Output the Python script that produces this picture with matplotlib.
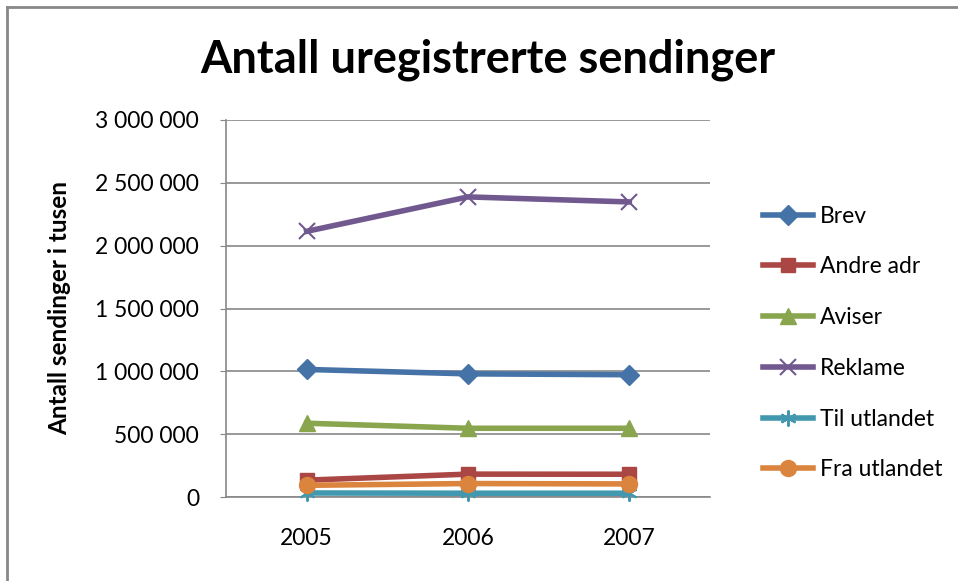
import matplotlib
matplotlib.use("Agg")
import matplotlib.pyplot as plt
from matplotlib.lines import Line2D
from matplotlib.ticker import FuncFormatter

plt.rcParams['font.family'] = ['Lato', 'DejaVu Sans']

years = ["2005", "2006", "2007"]
brev = [1015000, 980000, 973000]
andre_adr = [134000, 182000, 181000]
aviser = [587000, 547000, 547000]
reklame = [2114000, 2388000, 2348000]
til_utlandet = [32000, 30000, 30000]
fra_utlandet = [93000, 107000, 104000]

series = [
    ("Brev", brev, "#4572A7", "D", 10.5),
    ("Andre adr", andre_adr, "#AA4643", "s", 10.5),
    ("Aviser", aviser, "#89A54E", "^", 11.5),
    ("Reklame", reklame, "#71588F", "x", 11.5),
    ("Til utlandet", til_utlandet, "#4198AF", "*", 11.5),
    ("Fra utlandet", fra_utlandet, "#DB843D", "o", 11.5),
]

FS = 16.5

def make_kwargs(col, mk, ms):
    if mk == "x":
        return dict(color=col, lw=4, marker="x", ms=ms, mew=1.5)
    if mk == "*":
        return dict(color=col, lw=4, marker=(6, 2, 0), ms=ms, mew=1.5)
    return dict(color=col, lw=4, marker=mk, ms=ms, mec=col)

fig = plt.figure(figsize=(9.58, 5.81), dpi=100)
ax = fig.add_axes([226/958, 1-497/581, 484/958, 377/581])

x = list(range(len(years)))
for name, vals, col, mk, ms in series:
    ax.plot(x, vals, clip_on=False, zorder=3, **make_kwargs(col, mk, ms))

ax.set_xlim(-0.5, 2.5)
ax.set_ylim(0, 3000000)
ax.set_yticks(range(0, 3000001, 500000))
ax.yaxis.set_major_formatter(FuncFormatter(lambda v, p: f"{int(v):,}".replace(",", " ")))
ax.set_xticks(x)
ax.set_xticklabels(years)
ax.grid(axis="y", color="#888888", lw=1.2)
ax.set_axisbelow(True)
for s in ["top", "right"]:
    ax.spines[s].set_visible(False)
for s in ["left", "bottom"]:
    ax.spines[s].set_color("#888888")
    ax.spines[s].set_linewidth(1.2)
ax.tick_params(axis="y", length=4.3, color="#888888", labelsize=FS, pad=15)
ax.tick_params(axis="x", length=0, labelsize=FS, pad=22)

fig.text(60/958, 1-308/581, "Antall sendinger i tusen", rotation=90, ha="center", va="center",
         fontsize=17.5, fontweight="bold")

fig.text(488/958, 1-60/581, "Antall uregistrerte sendinger", ha="center", va="center",
         fontsize=32.5, fontweight="bold")

handles = [Line2D([], [], **make_kwargs(col, mk, ms)) for name, vals, col, mk, ms in series]
fig.legend(handles, [s[0] for s in series], loc="center left",
           bbox_to_anchor=(752/958, 1-343/581), frameon=False, fontsize=FS,
           borderpad=0, handlelength=2.15, handletextpad=0.3, labelspacing=1.3)

fig.add_artist(Line2D([7/958, 7/958], [0, 1-7/581], transform=fig.transFigure, color="#888888", lw=2))
fig.add_artist(Line2D([7/958, 1], [1-7/581, 1-7/581], transform=fig.transFigure, color="#888888", lw=2))

fig.savefig("out.png", dpi=100)
